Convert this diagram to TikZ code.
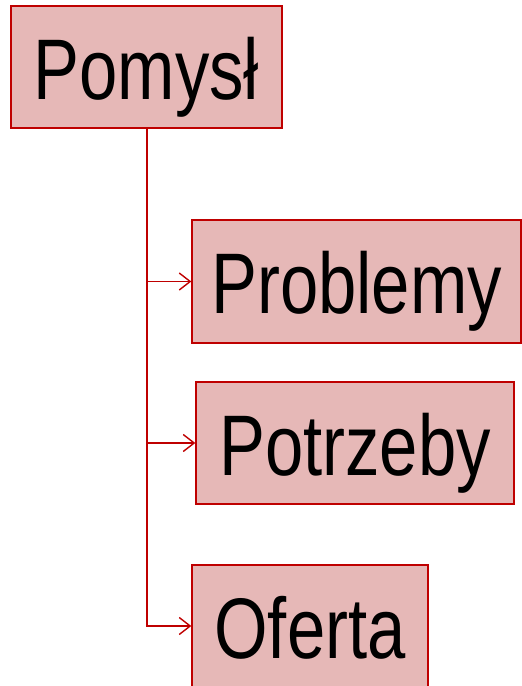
\documentclass[tikz,border=0pt]{standalone}
\usepackage{fontspec}
\setmainfont{Liberation Sans}[FakeStretch=0.80]
\usetikzlibrary{arrows.meta}
\definecolor{myred}{rgb}{0.75,0.0,0.0}
\definecolor{mypink}{rgb}{0.902,0.722,0.718}

\begin{document}
\begin{tikzpicture}[x=1pt,y=-1pt,
every node/.style={font=\fontsize{86}{90}\selectfont},
box/.style={draw=myred, fill=mypink, line width=1.3pt, inner sep=0pt,
  text height=68pt, text depth=4pt, anchor=center},
link/.style={myred, line width=1.6pt, -{Straight Barb[length=11pt,width=17pt,line width=1.4pt]}}]
\useasboundingbox (0,0) rectangle (522,686);
\node [box, minimum width=271pt, minimum height=122pt] (idea) at (146.5,67) {Pomysł};
\node [box, minimum width=329pt, minimum height=123pt] (problems) at (356.5,281.5) {Problemy};
\node [box, minimum width=318pt, minimum height=122pt] (needs) at (355,443) {Potrzeby};
\node [box, minimum width=236pt, minimum height=122pt] (offer) at (310,626) {Oferta};
\coordinate (trunk) at (idea.south -| 147,0);
\draw [myred, line width=1.6pt] (trunk) |- (problems.west);
\draw [link] (trunk |- problems.west) -- (problems.west);
\draw [link] (trunk |- needs.west) -- (needs.west);
\draw [link] (trunk) |- (offer.west);
\end{tikzpicture}
\end{document}
